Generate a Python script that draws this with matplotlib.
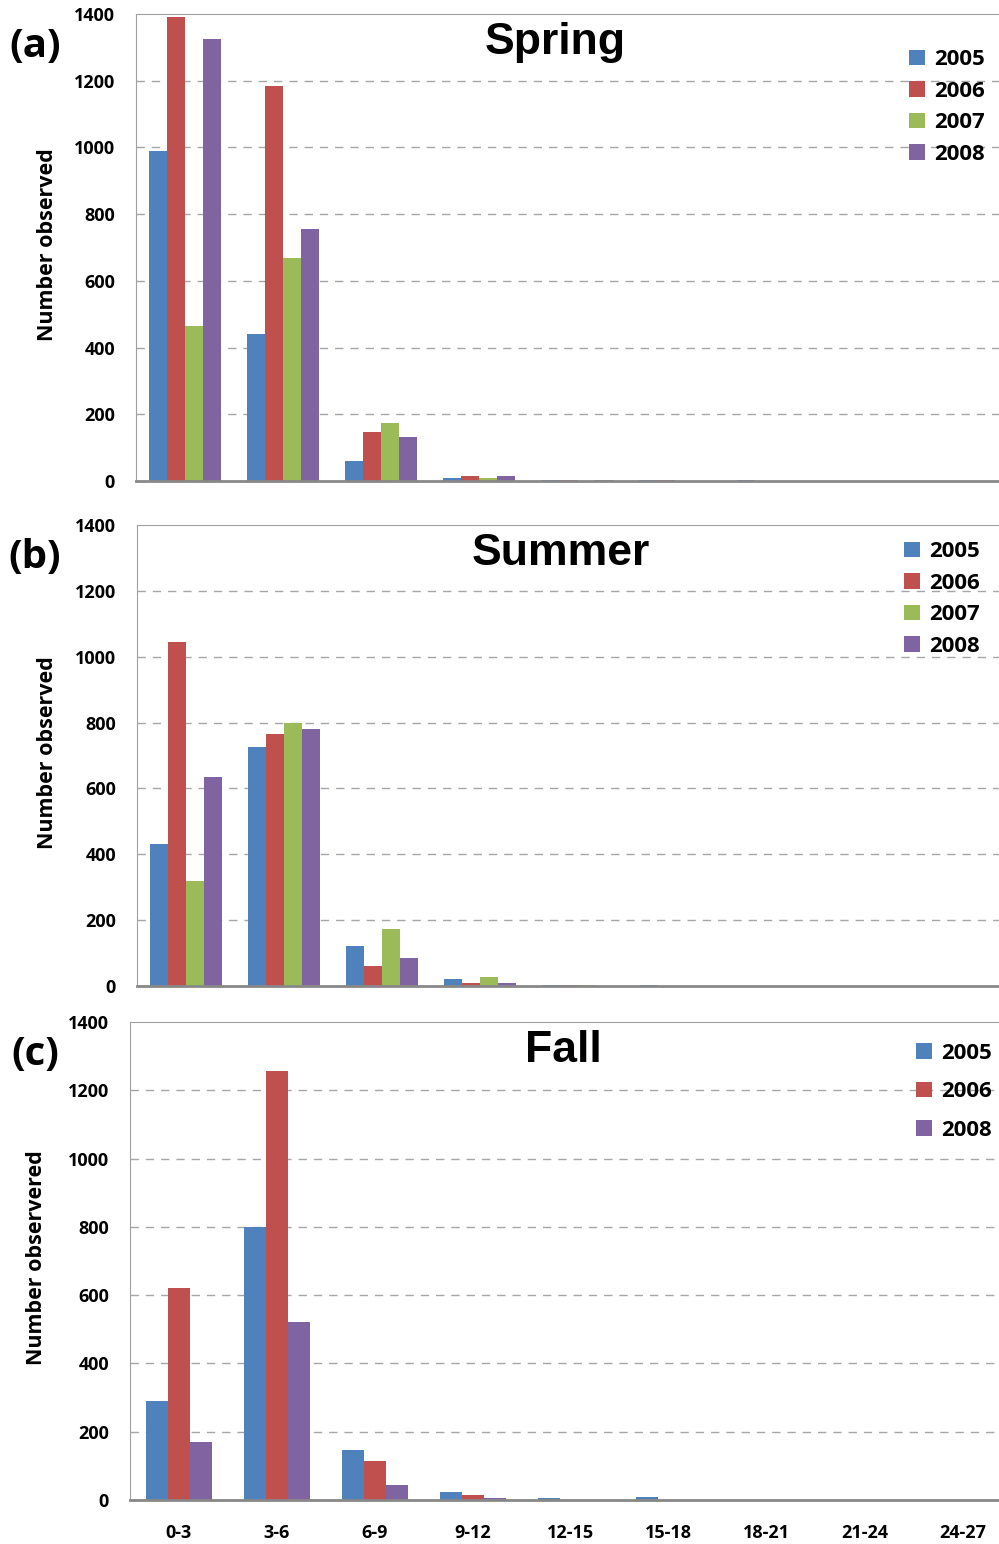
import matplotlib.pyplot as plt
import numpy as np

classes = ["0-3", "3-6", "6-9", "9-12", "12-15", "15-18", "18-21", "21-24", "24-27"]

spring_2005 = [990, 440, 60, 8, 2, 2, 2, 0, 0]
spring_2006 = [1390, 1185, 147, 16, 2, 2, 0, 0, 0]
spring_2007 = [465, 670, 173, 8, 0, 0, 0, 0, 0]
spring_2008 = [1325, 755, 132, 14, 2, 0, 0, 0, 0]

summer_2005 = [430, 725, 122, 20, 3, 3, 0, 0, 0]
summer_2006 = [1045, 765, 61, 10, 3, 0, 0, 0, 0]
summer_2007 = [320, 800, 173, 26, 3, 0, 0, 0, 0]
summer_2008 = [635, 780, 85, 10, 0, 0, 0, 0, 0]

fall_2005 = [290, 800, 146, 23, 6, 9, 0, 0, 0]
fall_2006 = [620, 1255, 114, 15, 0, 0, 0, 0, 0]
fall_2008 = [170, 520, 44, 6, 0, 0, 0, 0, 0]

colors = {"2005": "#4F81BD", "2006": "#C0504D", "2007": "#9BBB59", "2008": "#8064A2"}

plt.rcParams['font.family'] = ['Open Sans', 'DejaVu Sans']

fig = plt.figure(figsize=(9.99, 15.44), dpi=100)

panels = [
    # (letter, title, series, ylabel, rect, xmax, bar width, legend anchor, legend spacing, title x, ylabel x)
    ("(a)", "Spring",
     {"2005": spring_2005, "2006": spring_2006, "2007": spring_2007, "2008": spring_2008},
     "Number observed", [0.136, 0.6885, 0.864, 0.3024], 8.31, 0.184, (0.910, 0.968), 0.47, 0.556, 0.048),
    ("(b)", "Summer",
     {"2005": summer_2005, "2006": summer_2006, "2007": summer_2007, "2008": summer_2008},
     "Number observed", [0.137, 0.3614, 0.863, 0.2986], 8.30, 0.184, (0.905, 0.6495), 0.47, 0.561, 0.048),
    ("(c)", "Fall",
     {"2005": fall_2005, "2006": fall_2006, "2008": fall_2008},
     "Number observered", [0.130, 0.0285, 0.870, 0.3096], 8.37, 0.224, (0.917, 0.3245), 0.78, 0.564, 0.037),
]

x = np.arange(len(classes))
for i, (letter, title, series, ylabel, rect, xmax, w, anchor, lsp, tx, lx) in enumerate(panels):
    ax = fig.add_axes(rect)
    n = len(series)
    for j, (year, vals) in enumerate(series.items()):
        ax.bar(x + (j - (n - 1) / 2) * w, vals, width=w, color=colors[year], label=year, zorder=3)
    ax.set_xlim(-0.5, xmax)
    ax.set_ylim(0, 1400)
    ax.set_yticks(range(0, 1401, 200))
    ax.tick_params(axis='y', length=0, labelsize=13, pad=15)
    for t in ax.get_yticklabels():
        t.set_fontweight('bold')
    ax.set_xticks(x)
    if i == 2:
        ax.set_xticklabels(classes, fontsize=13, fontweight='bold')
        ax.tick_params(axis='x', length=0, pad=17)
    else:
        ax.set_xticklabels([])
        ax.tick_params(axis='x', length=0)
    for yv in range(200, 1400, 200):
        ax.axhline(yv, color='#a6a6a6', linestyle=(0, (6, 5)), linewidth=1, zorder=1)
    ax.spines['right'].set_visible(False)
    ax.spines['top'].set_color('#a0a0a0')
    ax.spines['left'].set_color('#a0a0a0')
    ax.spines['bottom'].set_color('#888888')
    ax.spines['bottom'].set_linewidth(2)
    ax.spines['bottom'].set_zorder(4)
    top = rect[1] + rect[3]
    fig.text(lx, rect[1] + rect[3] / 2 + 0.002, ylabel, rotation=90, ha='center', va='center',
             fontsize=15.5, fontweight='bold')
    fig.text(tx, top - 0.0185, title, ha='center', va='center',
             fontsize=32, fontweight='bold', family='Liberation Sans')
    fig.text(0.035, top - 0.021, letter, ha='center', va='center',
             fontsize=29, fontweight='bold')
    leg = ax.legend(loc='upper left', bbox_to_anchor=anchor, bbox_transform=fig.transFigure,
                    frameon=False, handlelength=0.7, handleheight=0.7, handletextpad=0.45,
                    borderaxespad=0, borderpad=0,
                    labelspacing=lsp, prop={'size': 16, 'weight': 'bold'})

fig.savefig("out.png", dpi=100)
